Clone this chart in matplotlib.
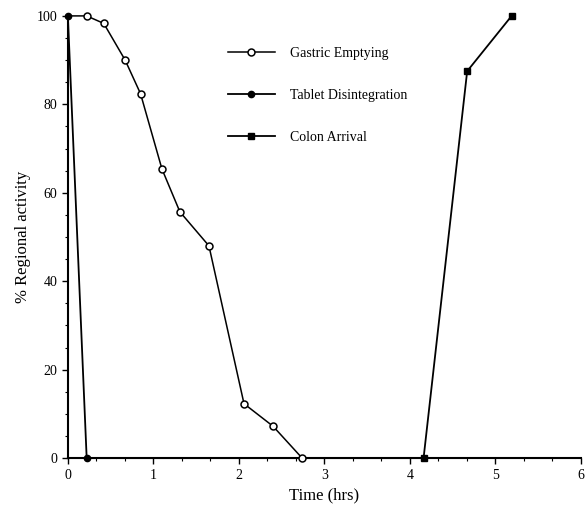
import matplotlib.pyplot as plt

# Data
gastric_t = [0.0, 0.22, 0.42, 0.67, 0.85, 1.10, 1.31, 1.65, 2.06, 2.40, 2.74]
gastric_pct = [100, 100, 98.3, 90, 82.4, 65.4, 55.7, 48, 12.3, 7.2, 0]

tablet_t = [0.0, 0.22, 6.0]
tablet_pct = [100, 0, 0]

colon_t = [0.0, 4.16, 4.67, 5.19]
colon_pct = [0, 0, 87.5, 100]

xticks = [0, 1, 2, 3, 4, 5, 6]
yticks = [0, 20, 40, 60, 80, 100]


def main():
    plt.rcParams['font.family'] = ['Liberation Serif', 'DejaVu Serif']

    fig = plt.figure(figsize=(5.85, 5.13), dpi=100)
    ax = fig.add_axes([0.116, 0.107, 0.877, 0.862])

    ax.plot(tablet_t, tablet_pct, color='black', lw=1.3, marker='o', ms=4.5,
            mfc='black', mec='black', markevery=[0, 1], label='Tablet Disintegration',
            zorder=3, clip_on=False)
    ax.plot(colon_t, colon_pct, color='black', lw=1.3, marker='s', ms=4.5,
            mfc='black', mec='black', markevery=[1, 2, 3], label='Colon Arrival',
            zorder=3, clip_on=False)
    ax.plot(gastric_t, gastric_pct, color='black', lw=1.1, marker='o', ms=5,
            mfc='white', mec='black', mew=1.1, markevery=list(range(1, len(gastric_t))),
            label='Gastric Emptying', zorder=4, clip_on=False)

    ax.set_xlim(0, 6)
    ax.set_ylim(0, 100)
    ax.set_xticks(xticks)
    ax.set_yticks(yticks)
    ax.set_xticks([i / 3 for i in range(19)], minor=True)
    ax.set_yticks(list(range(0, 101, 5)), minor=True)
    ax.tick_params(direction='out', length=4, width=1, labelsize=10)
    ax.tick_params(which='minor', direction='out', length=2.5, width=0.8)

    for side in ['top', 'right']:
        ax.spines[side].set_visible(False)
    ax.spines['left'].set_linewidth(1.5)
    ax.spines['bottom'].set_linewidth(1.5)

    ax.set_xlabel('Time (hrs)', fontsize=12)
    ax.set_ylabel('% Regional activity', fontsize=12)

    handles, labels = ax.get_legend_handles_labels()
    order = [2, 0, 1]
    ax.legend([handles[i] for i in order], [labels[i] for i in order],
              loc='upper left', bbox_to_anchor=(0.287, 0.958), frameon=False,
              fontsize=10, handlelength=3.4, labelspacing=2.1, handletextpad=1.1)

    fig.savefig('out.png', dpi=100)


if __name__ == "__main__":
    main()
